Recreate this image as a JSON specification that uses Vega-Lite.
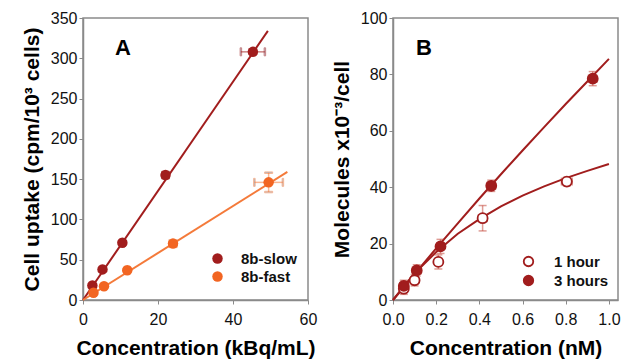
{
  "$schema": "https://vega.github.io/schema/vega-lite/v6.json",
  "padding": {"left": 20, "top": 9, "right": 0, "bottom": 0},
  "spacing": 12,
  "resolve": {
    "scale": {"color": "independent", "fill": "independent", "stroke": "independent", "x": "independent", "y": "independent"},
    "legend": {"color": "independent", "fill": "independent"}
  },
  "config": {
    "font": "Liberation Sans",
    "view": {"stroke": "#8a8a8a", "strokeWidth": 1.5},
    "axis": {
      "grid": false,
      "domainColor": "#8a8a8a",
      "domainWidth": 1.5,
      "tickColor": "#8a8a8a",
      "tickSize": 4,
      "labelFontSize": 16,
      "labelColor": "#111",
      "labelFont": "Liberation Sans",
      "titleFont": "Liberation Sans",
      "titleFontSize": 21,
      "titleFontWeight": "bold",
      "titleColor": "#000",
      "labelFlush": false,
      "labelOverlap": false
    },
    "axisX": {"labelPadding": 7},
    "legend": {
      "labelFontSize": 15,
      "labelFontWeight": "bold",
      "labelColor": "#111",
      "symbolSize": 110,
      "rowPadding": 2,
      "title": null
    },
    "title": {"fontSize": 22, "fontWeight": "bold", "color": "#000"}
  },
  "datasets": {
    "ptsA": [
      {"conc": 2.5, "uptake": 18, "xe": 0.4, "ye": 1.5, "series": "8b-slow"},
      {"conc": 5.2, "uptake": 38, "xe": 0.4, "ye": 1.5, "series": "8b-slow"},
      {"conc": 10.5, "uptake": 71, "xe": 0.5, "ye": 2, "series": "8b-slow"},
      {"conc": 22, "uptake": 155, "xe": 0.8, "ye": 3, "series": "8b-slow"},
      {"conc": 45.3, "uptake": 308, "xe": 3.2, "ye": 3, "series": "8b-slow"},
      {"conc": 2.8, "uptake": 9, "xe": 0.4, "ye": 1.5, "series": "8b-fast"},
      {"conc": 5.6, "uptake": 17, "xe": 0.4, "ye": 1.5, "series": "8b-fast"},
      {"conc": 11.8, "uptake": 37, "xe": 0.6, "ye": 2, "series": "8b-fast"},
      {"conc": 24, "uptake": 70, "xe": 0.9, "ye": 2.5, "series": "8b-fast"},
      {"conc": 49.5, "uptake": 146, "xe": 3.8, "ye": 12, "series": "8b-fast"}
    ],
    "fitA": [
      {"conc": 0, "uptake": 0, "curve": "8b-slow"},
      {"conc": 49.3, "uptake": 334, "curve": "8b-slow"},
      {"conc": 0, "uptake": 0, "curve": "8b-fast"},
      {"conc": 54.5, "uptake": 159, "curve": "8b-fast"}
    ],
    "ptsB": [
      {"conc": 0.05, "mol": 4, "xe": 0.015, "ye": 2, "series": "1 hour"},
      {"conc": 0.1, "mol": 7, "xe": 0.015, "ye": 2, "series": "1 hour"},
      {"conc": 0.21, "mol": 13.5, "xe": 0.015, "ye": 2.5, "series": "1 hour"},
      {"conc": 0.415, "mol": 29, "xe": 0.02, "ye": 4.5, "series": "1 hour"},
      {"conc": 0.805, "mol": 42, "xe": 0.025, "ye": 1.5, "series": "1 hour"},
      {"conc": 0.05, "mol": 5, "xe": 0.015, "ye": 2, "series": "3 hours"},
      {"conc": 0.11, "mol": 10.5, "xe": 0.02, "ye": 2, "series": "3 hours"},
      {"conc": 0.22, "mol": 19, "xe": 0.015, "ye": 2.5, "series": "3 hours"},
      {"conc": 0.455, "mol": 40.5, "xe": 0.02, "ye": 2, "series": "3 hours"},
      {"conc": 0.925, "mol": 78.5, "xe": 0.02, "ye": 2.5, "series": "3 hours"}
    ],
    "fitB": [
      {"conc": 0, "mol": 0, "series": "3 hours"},
      {"conc": 0.1, "mol": 9.2, "series": "3 hours"},
      {"conc": 0.2, "mol": 18.3, "series": "3 hours"},
      {"conc": 0.3, "mol": 27.2, "series": "3 hours"},
      {"conc": 0.4, "mol": 36, "series": "3 hours"},
      {"conc": 0.5, "mol": 44.6, "series": "3 hours"},
      {"conc": 0.6, "mol": 53, "series": "3 hours"},
      {"conc": 0.7, "mol": 61.3, "series": "3 hours"},
      {"conc": 0.8, "mol": 69.5, "series": "3 hours"},
      {"conc": 0.9, "mol": 77.5, "series": "3 hours"},
      {"conc": 1.0, "mol": 85.5, "series": "3 hours"},
      {"conc": 0, "mol": 0, "series": "1 hour"},
      {"conc": 0.1, "mol": 9.5, "series": "1 hour"},
      {"conc": 0.2, "mol": 17, "series": "1 hour"},
      {"conc": 0.3, "mol": 23.5, "series": "1 hour"},
      {"conc": 0.4, "mol": 28.7, "series": "1 hour"},
      {"conc": 0.5, "mol": 33.2, "series": "1 hour"},
      {"conc": 0.6, "mol": 37, "series": "1 hour"},
      {"conc": 0.7, "mol": 40.3, "series": "1 hour"},
      {"conc": 0.8, "mol": 43.2, "series": "1 hour"},
      {"conc": 0.9, "mol": 45.8, "series": "1 hour"},
      {"conc": 1.0, "mol": 48.2, "series": "1 hour"}
    ]
  },
  "hconcat": [
    {
      "width": 225,
      "height": 282,
      "title": {"text": "A", "anchor": "start", "frame": "group", "offset": -50, "dx": 32, "fontSize": 22},
      "layer": [
        {
          "data": {"name": "fitA"},
          "mark": {"type": "line", "strokeWidth": 2},
          "encoding": {
            "x": {"field": "conc", "type": "quantitative", "title": "Concentration (kBq/mL)"},
            "y": {"field": "uptake", "type": "quantitative", "title": "Cell uptake (cpm/10³ cells)"},
            "detail": {"field": "curve"},
            "stroke": {"field": "curve", "type": "nominal", "legend": null,
              "scale": {"domain": ["8b-fast", "8b-slow"], "range": ["#F47A3A", "#A11D1D"]}}
          }
        },
        {
          "data": {"name": "ptsA"},
          "transform": [
            {"calculate": "datum.conc - datum.xe", "as": "xlo"},
            {"calculate": "datum.conc + datum.xe", "as": "xhi"},
            {"calculate": "datum.series", "as": "curve"}
          ],
          "mark": {"type": "errorbar", "ticks": {"size": 8}, "opacity": 0.55, "thickness": 1.5},
          "encoding": {
            "x": {"field": "xlo", "type": "quantitative", "title": "Concentration (kBq/mL)"},
            "x2": {"field": "xhi"},
            "y": {"field": "uptake", "type": "quantitative", "title": "Cell uptake (cpm/10³ cells)"},
            "stroke": {"field": "curve", "type": "nominal", "legend": null}
          }
        },
        {
          "data": {"name": "ptsA"},
          "transform": [
            {"calculate": "datum.uptake - datum.ye", "as": "ylo"},
            {"calculate": "datum.uptake + datum.ye", "as": "yhi"},
            {"calculate": "datum.series", "as": "curve"}
          ],
          "mark": {"type": "errorbar", "ticks": {"size": 8}, "opacity": 0.55, "thickness": 1.5},
          "encoding": {
            "x": {"field": "conc", "type": "quantitative", "title": "Concentration (kBq/mL)"},
            "y": {"field": "ylo", "type": "quantitative", "title": "Cell uptake (cpm/10³ cells)"},
            "y2": {"field": "yhi"},
            "stroke": {"field": "curve", "type": "nominal", "legend": null}
          }
        },
        {
          "data": {"name": "ptsA"},
          "mark": {"type": "point", "filled": true, "opacity": 1, "size": 110},
          "encoding": {
            "x": {
              "field": "conc", "type": "quantitative",
              "title": "Concentration (kBq/mL)",
              "scale": {"domain": [0, 60], "nice": false},
              "axis": {
                "values": [0, 5, 10, 15, 20, 25, 30, 35, 40, 45, 50, 55, 60],
                "labelExpr": "datum.value % 10 == 0 ? datum.label : ''",
                "titlePadding": 10
              }
            },
            "y": {
              "field": "uptake", "type": "quantitative",
              "title": "Cell uptake (cpm/10³ cells)",
              "scale": {"domain": [0, 350], "nice": false},
              "axis": {
                "values": [0, 50, 100, 150, 200, 250, 300, 350],
                "titlePadding": 8
              }
            },
            "color": {
              "field": "series", "type": "nominal",
              "scale": {"domain": ["8b-slow", "8b-fast"], "range": ["#A11D1D", "#F26522"]},
              "legend": {"orient": "none", "legendX": 127, "legendY": 233, "symbolType": "circle", "labelOffset": 16}
            }
          }
        }
      ]
    },
    {
      "width": 225,
      "height": 282,
      "title": {"text": "B", "anchor": "start", "frame": "group", "offset": -50, "dx": 23, "fontSize": 22},
      "layer": [
        {
          "data": {"name": "fitB"},
          "mark": {"type": "line", "strokeWidth": 2, "color": "#A11D1D"},
          "encoding": {
            "x": {"field": "conc", "type": "quantitative", "title": "Concentration (nM)"},
            "y": {"field": "mol", "type": "quantitative", "title": "Molecules x10⁻³/cell"},
            "detail": {"field": "series"}
          }
        },
        {
          "data": {"name": "ptsB"},
          "transform": [
            {"calculate": "datum.conc - datum.xe", "as": "xlo"},
            {"calculate": "datum.conc + datum.xe", "as": "xhi"}
          ],
          "mark": {"type": "errorbar", "ticks": {"size": 8}, "opacity": 0.5, "thickness": 1.5, "color": "#C0392B"},
          "encoding": {
            "x": {"field": "xlo", "type": "quantitative", "title": "Concentration (nM)"},
            "x2": {"field": "xhi"},
            "y": {"field": "mol", "type": "quantitative", "title": "Molecules x10⁻³/cell"}
          }
        },
        {
          "data": {"name": "ptsB"},
          "transform": [
            {"calculate": "datum.mol - datum.ye", "as": "ylo"},
            {"calculate": "datum.mol + datum.ye", "as": "yhi"}
          ],
          "mark": {"type": "errorbar", "ticks": {"size": 8}, "opacity": 0.5, "thickness": 1.5, "color": "#C0392B"},
          "encoding": {
            "x": {"field": "conc", "type": "quantitative", "title": "Concentration (nM)"},
            "y": {"field": "ylo", "type": "quantitative", "title": "Molecules x10⁻³/cell"},
            "y2": {"field": "yhi"}
          }
        },
        {
          "data": {"name": "ptsB"},
          "mark": {"type": "point", "filled": true, "opacity": 1, "size": 100, "stroke": "#A11D1D", "strokeWidth": 1.8},
          "encoding": {
            "x": {
              "field": "conc", "type": "quantitative",
              "title": "Concentration (nM)",
              "scale": {"domain": [0, 1.042], "nice": false, "zero": true},
              "axis": {
                "values": [0, 0.1, 0.2, 0.3, 0.4, 0.5, 0.6, 0.7, 0.8, 0.9, 1.0],
                "labelExpr": "round(datum.value * 10) % 2 == 0 ? format(datum.value, '.1f') : ''",
                "titlePadding": 10
              }
            },
            "y": {
              "field": "mol", "type": "quantitative",
              "title": "Molecules x10⁻³/cell",
              "scale": {"domain": [0, 100], "nice": false},
              "axis": {
                "values": [0, 20, 40, 60, 80, 100],
                "titlePadding": 8
              }
            },
            "fill": {
              "field": "series", "type": "nominal",
              "scale": {"domain": ["1 hour", "3 hours"], "range": ["#ffffff", "#A11D1D"]},
              "legend": {"orient": "none", "legendX": 128, "legendY": 236, "symbolType": "circle", "symbolStrokeColor": "#A11D1D", "symbolStrokeWidth": 1.8, "symbolSize": 90, "labelOffset": 18}
            }
          }
        }
      ]
    }
  ]
}
